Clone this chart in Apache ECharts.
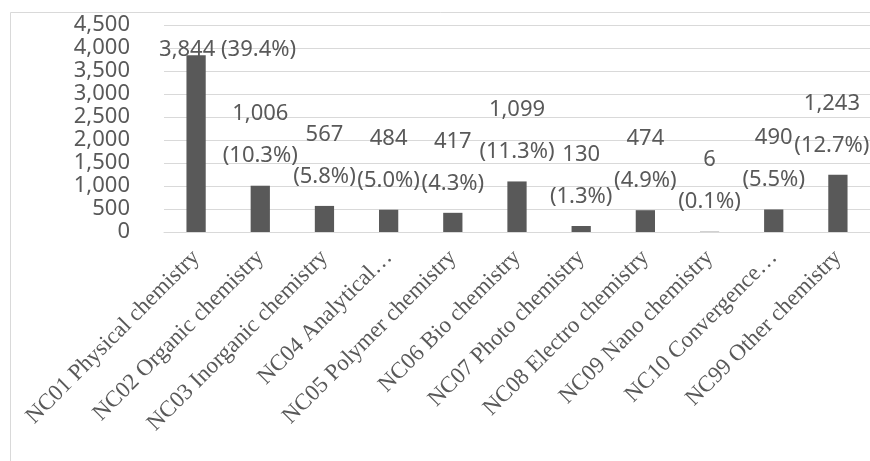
<!DOCTYPE html>
<html>
<head>
<meta charset="utf-8">
<script src="https://cdn.jsdelivr.net/npm/echarts@6/dist/echarts.min.js"></script>
<style>
html,body{margin:0;padding:0;background:#fff;}
#chart{width:870px;height:461px;}
</style>
</head>
<body>
<div id="chart"></div>
<script>
const categories = [
  'NC01 Physical chemistry',
  'NC02 Organic chemistry',
  'NC03 Inorganic chemistry',
  'NC04 Analytical…',
  'NC05 Polymer chemistry',
  'NC06 Bio chemistry',
  'NC07 Photo chemistry',
  'NC08 Electro chemistry',
  'NC09 Nano chemistry',
  'NC10 Convergence…',
  'NC99 Other chemistry'
];
const counts = [3844, 1006, 567, 484, 417, 1099, 130, 474, 6, 490, 1243];
const shares = ['(39.4%)', '(10.3%)', '(5.8%)', '(5.0%)', '(4.3%)', '(11.3%)', '(1.3%)', '(4.9%)', '(0.1%)', '(5.5%)', '(12.7%)'];
const yTicks = [0, 500, 1000, 1500, 2000, 2500, 3000, 3500, 4000, 4500];

const fmt = v => v.toLocaleString('en-US');

const seriesData = counts.map((v, i) => {
  const item = { value: v };
  if (i === 0) {
    item.label = {
      formatter: () => fmt(v) + ' ' + shares[i],
      distance: 0,
      offset: [31.5, 15.8]
    };
  } else if (i === counts.length - 1) {
    item.label = { offset: [-6, 0] };
  }
  return item;
});

const chart = echarts.init(document.getElementById('chart'), null, { renderer: 'canvas' });
chart.setOption({
  animation: false,
  backgroundColor: '#ffffff',
  graphic: [{
    type: 'rect',
    left: 8, top: 10,
    shape: { width: 900, height: 500 },
    style: { fill: 'none', stroke: '#d9d9d9', lineWidth: 1 },
    z: -1
  }],
  grid: { left: 164, right: 0, top: 25, bottom: 229, containLabel: false },
  xAxis: {
    type: 'category',
    data: categories,
    axisLine: { show: true, lineStyle: { color: '#d9d9d9', width: 1 } },
    axisTick: { show: false },
    axisLabel: {
      interval: 0,
      rotate: 45,
      margin: 22,
      color: '#595959',
      fontFamily: 'Liberation Serif',
      fontSize: 23
    }
  },
  yAxis: {
    type: 'value',
    min: yTicks[0],
    max: yTicks[yTicks.length - 1],
    interval: 500,
    axisLine: { show: false },
    axisTick: { show: false },
    splitLine: { show: true, lineStyle: { color: '#d9d9d9', width: 1 } },
    axisLabel: {
      margin: 34,
      color: '#595959',
      fontFamily: 'Noto Sans',
      fontSize: 22,
      formatter: v => fmt(v)
    }
  },
  series: [{
    type: 'bar',
    data: seriesData,
    barWidth: '30%',
    itemStyle: { color: '#595959' },
    label: {
      show: true,
      position: 'top',
      distance: 8.5,
      color: '#595959',
      fontFamily: 'Noto Sans',
      fontSize: 22,
      lineHeight: 42,
      align: 'center',
      formatter: p => fmt(counts[p.dataIndex]) + '\n' + shares[p.dataIndex]
    }
  }]
});
</script>
</body>
</html>
